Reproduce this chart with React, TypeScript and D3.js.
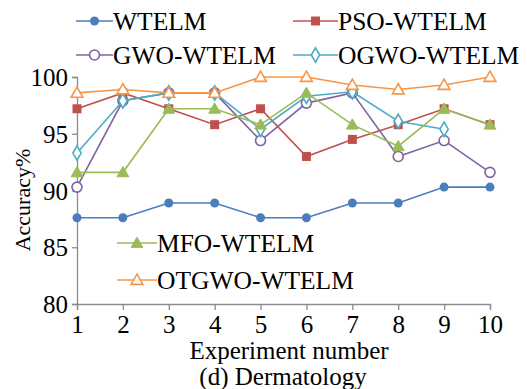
import { useEffect, useRef } from "react";
import * as d3 from "d3";

// experiment index 1..10
const runs = [1, 2, 3, 4, 5, 6, 7, 8, 9, 10];
const yTicks = [80, 85, 90, 95, 100];

const wtelm = [87.6, 87.6, 88.9, 88.9, 87.6, 87.6, 88.9, 88.9, 90.3, 90.3];
const psoWtelm = [97.2, 98.6, 97.2, 95.8, 97.2, 93.0, 94.5, 95.8, 97.2, 95.8];
const gwoWtelm = [90.3, 97.9, 98.6, 98.6, 94.4, 97.7, 98.6, 93.0, 94.4, 91.6];
const ogwoWtelm = [93.3, 97.9, 98.6, 98.6, 95.4, 98.3, 98.7, 96.1, 95.4, null];
const mfoWtelm = [91.6, 91.6, 97.2, 97.2, 95.8, 98.6, 95.8, 93.9, 97.2, 95.8];
const otgwoWtelm = [98.6, 98.9, 98.6, 98.6, 100, 100, 99.3, 98.9, 99.3, 100];

type Series = {
  name: string;
  values: (number | null)[];
  color: string;
  marker: "dot" | "square" | "ring" | "diamond" | "triangle" | "openTriangle";
};

const series: Series[] = [
  { name: "WTELM", values: wtelm, color: "#4a7ebb", marker: "dot" },
  { name: "PSO-WTELM", values: psoWtelm, color: "#c0504d", marker: "square" },
  { name: "GWO-WTELM", values: gwoWtelm, color: "#8064a2", marker: "ring" },
  { name: "OGWO-WTELM", values: ogwoWtelm, color: "#4bacc6", marker: "diamond" },
  { name: "MFO-WTELM", values: mfoWtelm, color: "#9bbb59", marker: "triangle" },
  { name: "OTGWO-WTELM", values: otgwoWtelm, color: "#f79646", marker: "openTriangle" },
];

const W = 527;
const H = 389;
const FONT = "'Liberation Serif', 'Times New Roman', serif";

function drawMarker(g: any, kind: Series["marker"], cx: number, cy: number, color: string) {
  if (kind === "dot") {
    g.append("circle").attr("cx", cx).attr("cy", cy).attr("r", 4.5).attr("fill", color);
  } else if (kind === "square") {
    g.append("rect").attr("x", cx - 4.5).attr("y", cy - 4.5).attr("width", 9).attr("height", 9).attr("fill", color);
  } else if (kind === "ring") {
    g.append("circle").attr("cx", cx).attr("cy", cy).attr("r", 5).attr("fill", "#fff").attr("stroke", color).attr("stroke-width", 1.6);
  } else if (kind === "diamond") {
    const s = d3.symbol().type(d3.symbolDiamond).size(60);
    g.append("path").attr("transform", `translate(${cx},${cy})`).attr("d", s()).attr("fill", "#fff").attr("stroke", color).attr("stroke-width", 1.6);
  } else {
    const s = d3.symbol().type(d3.symbolTriangle).size(60);
    g.append("path")
      .attr("transform", `translate(${cx},${cy + 1})`)
      .attr("d", s())
      .attr("fill", kind === "triangle" ? color : "#fff")
      .attr("stroke", color)
      .attr("stroke-width", kind === "triangle" ? 1 : 1.6);
  }
}

export default function App() {
  const ref = useRef<SVGSVGElement>(null);

  useEffect(() => {
    const svg = d3.select(ref.current);
    svg.selectAll("*").remove();

    const x = d3.scaleLinear().domain([1, 10]).range([77, 490]);
    const y = d3.scaleLinear().domain([80, 100]).range([304, 77]);

    // axes
    const yAxis = svg.append("g").attr("transform", "translate(77,0)")
      .call(d3.axisLeft(y).tickValues(yTicks).tickSize(5).tickPadding(4));
    const xAxis = svg.append("g").attr("transform", "translate(0,304)")
      .call(d3.axisBottom(x).tickValues(runs).tickSize(6).tickPadding(5));
    [yAxis, xAxis].forEach((a) => {
      a.attr("font-family", FONT).attr("font-size", 25);
      a.selectAll("path, line").attr("stroke", "#8c8c8c").attr("stroke-width", 1.3);
      a.selectAll("text").attr("fill", "#000");
    });
    yAxis.selectAll("text").attr("dy", "0.34em");

    // lines
    const line = d3.line<number | null>()
      .defined((d) => d !== null)
      .x((_, i) => x(runs[i]))
      .y((d) => y(d as number));

    series.forEach((s) => {
      svg.append("path")
        .datum(s.values)
        .attr("fill", "none")
        .attr("stroke", s.color)
        .attr("stroke-width", 1.6)
        .attr("d", line);
      const g = svg.append("g");
      s.values.forEach((v, i) => {
        if (v !== null) drawMarker(g, s.marker, x(runs[i]), y(v), s.color);
      });
    });

    // legends
    const legendPos = [
      [76, 21], [293, 21], [76, 55], [293, 55], [117, 243], [117, 280],
    ];
    series.forEach((s, i) => {
      const [lx, ly] = legendPos[i];
      const len = i >= 4 ? 40 : i % 2 === 0 ? 37 : 45;
      const g = svg.append("g");
      g.append("line").attr("x1", lx).attr("x2", lx + len).attr("y1", ly).attr("y2", ly)
        .attr("stroke", s.color).attr("stroke-width", 1.6);
      drawMarker(g, s.marker, lx + len / 2, ly, s.color);
      g.append("text").attr("x", lx + len).attr("y", ly).attr("dy", "0.35em")
        .attr("font-family", FONT).attr("font-size", 25.5).text(s.name);
    });

    // titles
    svg.append("text").attr("transform", "translate(30,200) rotate(-90)")
      .attr("text-anchor", "middle").attr("font-family", FONT).attr("font-size", 22)
      .text("Accuracy%");
    svg.append("text").attr("x", 289).attr("y", 359).attr("text-anchor", "middle")
      .attr("font-family", FONT).attr("font-size", 25).text("Experiment number");
    svg.append("text").attr("x", 283).attr("y", 385).attr("text-anchor", "middle")
      .attr("font-family", FONT).attr("font-size", 25).text("(d) Dermatology");
  }, []);

  return (
    <svg ref={ref} width={W} height={H}
      style={{ position: "absolute", left: 0, top: 0, background: "#fff" }} />
  );
}
